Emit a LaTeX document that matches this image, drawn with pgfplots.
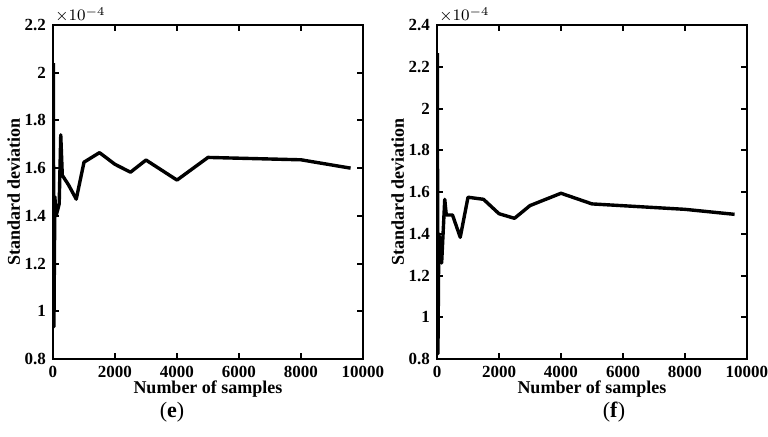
\documentclass[border=0pt]{standalone}
\usepackage{fontspec}
\setmainfont{Liberation Serif}
\usepackage{pgfplots}
\pgfplotsset{compat=1.18}

% sample counts vs. standard deviation (x 1e-4)
\pgfplotstableread{
n    sd
10   2.04
30   0.935
60   1.48
100  1.40
200  1.45
250  1.74
300  1.57
500  1.53
750  1.47
1000 1.625
1500 1.665
2000 1.616
2500 1.583
3000 1.634
4000 1.550
5000 1.645
8000 1.635
9600 1.600
}\tableE

\pgfplotstableread{
n    sd
10   2.265
30   0.825
60   1.40
150  1.26
250  1.565
300  1.49
500  1.49
750  1.383
1000 1.575
1500 1.565
2000 1.496
2500 1.474
3000 1.535
4000 1.594
5000 1.543
8000 1.517
9600 1.493
}\tableF

\pgfplotsset{
  sdstyle/.style={
    width=155pt, height=167pt, scale only axis,
    clip mode=individual,
    xmin=0, xmax=10000,
    xtick={0,2000,4000,6000,8000,10000},
    scaled x ticks=false,
    tick align=inside,
    major tick length=3pt,
    axis line style={line width=1.1pt},
    tick style={line width=1pt, black},
    ticklabel style={font=\fontsize{8.5}{9}\selectfont\bfseries},
    /pgf/number format/assume math mode=true,
    /pgf/number format/1000 sep={},
    xlabel={\fontsize{9}{10}\selectfont\bfseries Number of samples},
    ylabel={\fontsize{9}{10}\selectfont\bfseries Standard deviation},
    xlabel style={yshift=5pt},
    ylabel style={yshift=-4.5pt},
    anchor=south west,
  }
}

\begin{document}
\begin{tikzpicture}
\useasboundingbox (0,0) rectangle (384pt,-218pt);

\begin{axis}[sdstyle, at={(26.5pt,-179.5pt)},
    ymin=0.8, ymax=2.2, ytick={0.8,1,1.2,1.4,1.6,1.8,2,2.2}]
\addplot[black, line width=1.7pt, line join=round] table[x=n, y=sd] {\tableE};
\node[anchor=south west, inner sep=1pt, font=\fontsize{8.5}{9}\selectfont]
  at (rel axis cs:0.0,1) {$\times 10^{-4}$};
\end{axis}
\node[font=\fontsize{11}{12}\selectfont] at (86pt,-206pt) {(\textbf{e})};

\begin{axis}[sdstyle, at={(218.5pt,-179.5pt)},
    ymin=0.8, ymax=2.4, ytick={0.8,1,1.2,1.4,1.6,1.8,2,2.2,2.4}]
\addplot[black, line width=1.7pt, line join=round] table[x=n, y=sd] {\tableF};
\node[anchor=south west, inner sep=1pt, font=\fontsize{8.5}{9}\selectfont]
  at (rel axis cs:0.0,1) {$\times 10^{-4}$};
\end{axis}
\node[font=\fontsize{11}{12}\selectfont] at (307pt,-206pt) {(\textbf{f})};
\end{tikzpicture}
\end{document}
